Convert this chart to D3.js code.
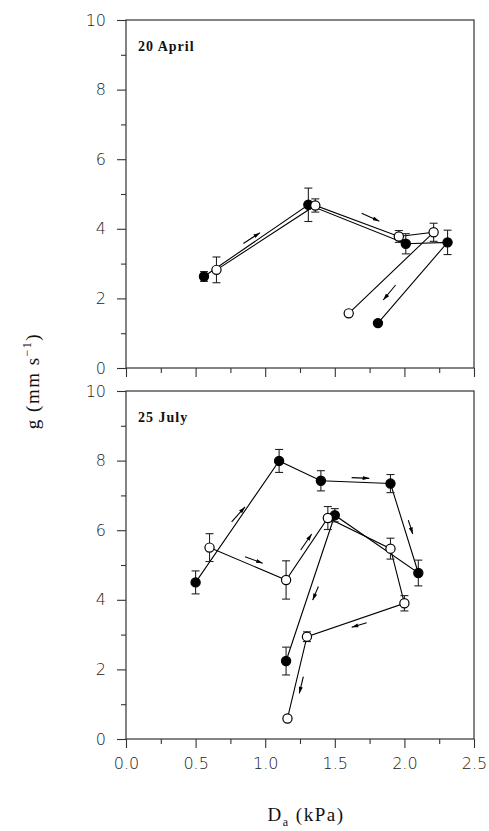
<!DOCTYPE html>
<html><head><meta charset="utf-8">
<script src="https://cdn.jsdelivr.net/npm/d3@7"></script>
<style>body{margin:0;background:#fff}svg{display:block}</style>
</head><body>
<script>
// ---- data ----
const xTicks = [0.0, 0.5, 1.0, 1.5, 2.0, 2.5];
const yTicks = [0, 2, 4, 6, 8, 10];
const panelTitles = ["20 April", "25 July"];

const aprilFilledX = [0.56, 1.31, 2.01, 2.31, 1.81];
const aprilFilledY = [2.63, 4.69, 3.57, 3.61, 1.29];
const aprilFilledErr = [0.14, 0.48, 0.29, 0.35, 0];
const aprilOpenX = [0.65, 1.36, 1.96, 2.21, 1.60];
const aprilOpenY = [2.82, 4.67, 3.78, 3.90, 1.57];
const aprilOpenErr = [0.37, 0.19, 0.17, 0.26, 0.07];

const julyFilledX = [0.50, 1.10, 1.40, 1.90, 2.10, 1.50, 1.15];
const julyFilledY = [4.50, 7.99, 7.42, 7.34, 4.77, 6.43, 2.24];
const julyFilledErr = [0.33, 0.33, 0.29, 0.26, 0.37, 0.19, 0.40];
const julyOpenX = [0.60, 1.15, 1.45, 1.90, 2.00, 1.30, 1.16];
const julyOpenY = [5.50, 4.57, 6.35, 5.47, 3.90, 2.94, 0.59];
const julyOpenErr = [0.40, 0.55, 0.33, 0.30, 0.22, 0.14, 0];

// arrows: [x1, y1, x2, y2] in data units
const aprilArrows = [
  [0.843, 3.58, 0.963, 3.89],
  [1.693, 4.45, 1.820, 4.22],
  [1.937, 2.385, 1.848, 1.954]
];
const julyArrows = [
  [0.759, 6.24, 0.855, 6.67],
  [0.855, 5.24, 0.982, 5.05],
  [1.255, 5.43, 1.334, 5.89],
  [1.621, 7.51, 1.748, 7.49],
  [2.028, 6.29, 2.060, 5.89],
  [1.382, 4.38, 1.341, 3.99],
  [1.729, 3.34, 1.621, 3.21],
  [1.274, 1.79, 1.245, 1.31]
];

// ---- layout ----
const W = 489, H = 831;
const left = 126, right = 474;
const panels = [
  {top: 20, bottom: 368, title: panelTitles[0],
   series: [
     {x: aprilFilledX, y: aprilFilledY, e: aprilFilledErr, filled: true},
     {x: aprilOpenX, y: aprilOpenY, e: aprilOpenErr, filled: false}],
   arrows: aprilArrows, labels: false},
  {top: 391, bottom: 739, title: panelTitles[1],
   series: [
     {x: julyFilledX, y: julyFilledY, e: julyFilledErr, filled: true},
     {x: julyOpenX, y: julyOpenY, e: julyOpenErr, filled: false}],
   arrows: julyArrows, labels: true}
];

const svg = d3.select("body").append("svg").attr("width", W).attr("height", H);
const defs = svg.append("defs");
defs.append("marker").attr("id", "ah").attr("viewBox", "0 0 10 6")
  .attr("refX", 10).attr("refY", 3).attr("markerWidth", 7).attr("markerHeight", 4)
  .attr("orient", "auto").attr("markerUnits", "userSpaceOnUse")
  .append("path").attr("d", "M0,0 L10,3 L0,6 Z").attr("fill", "#000");

const x = d3.scaleLinear().domain([0, 2.5]).range([left, right]);
const axisColor = "#333";
const tickFont = "'DejaVu Sans', sans-serif";
const serif = "'Liberation Serif', serif";

panels.forEach(p => {
  const y = d3.scaleLinear().domain([0, 10]).range([p.bottom, p.top]);
  const g = svg.append("g");

  // frame
  g.append("rect").attr("x", left).attr("y", p.top)
    .attr("width", right - left).attr("height", p.bottom - p.top)
    .attr("fill", "none").attr("stroke", axisColor).attr("stroke-width", 1.2);

  // x axis
  const xa = d3.axisBottom(x).tickValues(xTicks).tickSize(9)
    .tickFormat(p.labels ? d3.format(".1f") : () => "");
  const xg = g.append("g").attr("transform", `translate(0,${p.bottom})`).call(xa);
  const xm = d3.axisBottom(x).tickValues(d3.range(0.25, 2.5, 0.5)).tickSize(5).tickFormat(() => "");
  const xmg = g.append("g").attr("transform", `translate(0,${p.bottom})`).call(xm);

  // y axis
  const ya = d3.axisLeft(y).tickValues(yTicks).tickSize(9).tickPadding(11).tickFormat(d3.format("d"));
  const yg = g.append("g").attr("transform", `translate(${left},0)`).call(ya);
  const ym = d3.axisLeft(y).tickValues([1, 3, 5, 7, 9]).tickSize(5).tickFormat(() => "");
  const ymg = g.append("g").attr("transform", `translate(${left},0)`).call(ym);

  [xg, xmg, yg, ymg].forEach(a => {
    a.select(".domain").remove();
    a.selectAll("line").attr("stroke", axisColor).attr("stroke-width", 1.1);
    a.selectAll("text").attr("fill", "#222").attr("font-family", tickFont)
      .attr("font-size", 16).attr("font-weight", 300);
  });
  xg.selectAll("text").attr("dy", "1.15em");

  // title
  g.append("text").attr("x", 138).attr("y", p.top + 31).text(p.title)
    .attr("font-family", serif).attr("font-weight", "bold").attr("font-size", 14)
    .attr("letter-spacing", 1).attr("fill", "#111");

  const line = d3.line().x(d => x(d[0])).y(d => y(d[1]));
  p.series.forEach(s => {
    const pts = s.x.map((v, i) => [v, s.y[i], s.e[i]]);
    g.append("path").attr("d", line(pts)).attr("fill", "none")
      .attr("stroke", "#000").attr("stroke-width", 1.1);
  });
  p.series.forEach(s => {
    const pts = s.x.map((v, i) => [v, s.y[i], s.e[i]]);
    const eb = g.append("g").attr("stroke", "#222").attr("stroke-width", 1.1);
    pts.filter(d => d[2] > 0).forEach(d => {
      const cx = x(d[0]), y1 = y(d[1] - d[2]), y2 = y(d[1] + d[2]);
      eb.append("line").attr("x1", cx).attr("x2", cx).attr("y1", y1).attr("y2", y2);
      eb.append("line").attr("x1", cx - 4).attr("x2", cx + 4).attr("y1", y1).attr("y2", y1);
      eb.append("line").attr("x1", cx - 4).attr("x2", cx + 4).attr("y1", y2).attr("y2", y2);
    });
  });
  p.series.forEach(s => {
    const pts = s.x.map((v, i) => [v, s.y[i]]);
    g.selectAll(null).data(pts).enter().append("circle")
      .attr("cx", d => x(d[0])).attr("cy", d => y(d[1])).attr("r", 4.6)
      .attr("fill", s.filled ? "#000" : "#fff").attr("stroke", "#000").attr("stroke-width", 1.2);
  });

  // arrows
  p.arrows.forEach(a => {
    g.append("line").attr("x1", x(a[0])).attr("y1", y(a[1]))
      .attr("x2", x(a[2])).attr("y2", y(a[3]))
      .attr("stroke", "#000").attr("stroke-width", 1.1).attr("marker-end", "url(#ah)");
  });
});

// axis titles
const xt = svg.append("text").attr("x", 306).attr("y", 821).attr("text-anchor", "middle")
  .attr("font-family", serif).attr("font-size", 19).attr("letter-spacing", 1.5).attr("fill", "#111");
xt.append("tspan").text("D");
xt.append("tspan").attr("font-size", 12).attr("dy", 5).text("a");
xt.append("tspan").attr("dy", -5).text("\u00a0(kPa)");

const yt = svg.append("text").attr("transform", "translate(39,381) rotate(-90)")
  .attr("text-anchor", "middle").attr("font-family", serif).attr("font-size", 19)
  .attr("letter-spacing", 1.5).attr("fill", "#111");
yt.append("tspan").text("g (mm s");
yt.append("tspan").attr("font-size", 12).attr("dy", -8).text("\u22121");
yt.append("tspan").attr("dy", 8).text(")");
</script>
</body></html>
